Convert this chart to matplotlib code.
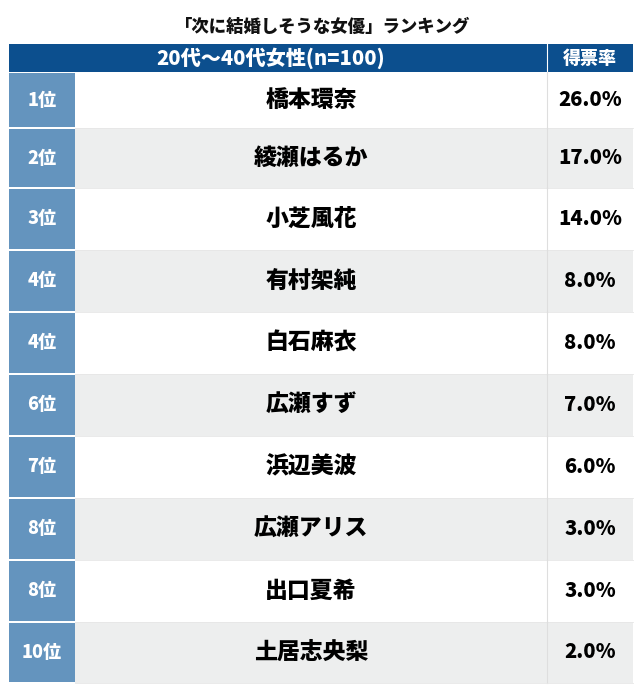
import matplotlib.pyplot as plt
from matplotlib.patches import Rectangle

plt.rcParams['font.family'] = ['Noto Sans CJK JP', 'DejaVu Sans']

title = "「次に結婚しそうな女優」ランキング"
header_left = "20代〜40代女性(n=100)"
header_right = "得票率"
ranks = ["1位", "2位", "3位", "4位", "4位", "6位", "7位", "8位", "8位", "10位"]
names = ["橋本環奈", "綾瀬はるか", "小芝風花", "有村架純", "白石麻衣",
         "広瀬すず", "浜辺美波", "広瀬アリス", "出口夏希", "土居志央梨"]
shares = [26.0, 17.0, 14.0, 8.0, 8.0, 7.0, 6.0, 3.0, 3.0, 2.0]

# layout in pixels
W, H = 640, 695
x0, x1, x2, x3 = 9, 75, 547, 633
head_top, head_bot = 44, 72
row_h = [56, 60, 62, 62, 62, 62, 62, 62, 62, 61]

dark_blue = "#0c4f8e"
rank_blue = "#6494be"
row_gray = "#edeeee"
line_gray = "#dedede"

fig = plt.figure(figsize=(W / 100, H / 100), dpi=100)
ax = fig.add_axes([0, 0, 1, 1])
ax.set_xlim(0, W)
ax.set_ylim(H, 0)
ax.axis("off")

ax.text(W / 2 + 3, 27, title, ha="center", va="center", fontsize=12.5,
        fontweight=900, color="#111111")

# header
ax.add_patch(Rectangle((x0, head_top), x3 - x0, head_bot - head_top,
                       color=dark_blue, lw=0))
ax.plot([x2, x2], [head_top, head_bot], color="white", lw=0.8)
ax.text(271, (head_top + head_bot) / 2, header_left, ha="center", va="center",
        fontsize=14.5, fontweight=900, color="white")
ax.text((x2 + x3) / 2, (head_top + head_bot) / 2, header_right, ha="center",
        va="center", fontsize=13, fontweight=900, color="white")

y = head_bot
for i, (rk, nm, sh) in enumerate(zip(ranks, names, shares)):
    h = row_h[i]
    fill = "white" if i % 2 == 0 else row_gray
    ax.add_patch(Rectangle((x1, y), x3 - x1, h, color=fill, lw=0))
    ax.add_patch(Rectangle((x0, y + 1), x1 - x0, h - 2, color=rank_blue, lw=0))
    ax.plot([x2, x2], [y, y + h], color=line_gray, lw=0.8)
    ax.plot([x1, x3], [y + h, y + h], color="#e6e6e6", lw=0.6)
    cy = y + h / 2
    ax.text((x0 + x1) / 2, cy, rk, ha="center", va="center", fontsize=13,
            fontweight=900, color="white")
    ax.text((x1 + x2) / 2, cy, nm, ha="center", va="center", fontsize=16.5,
            fontweight=900, color="black")
    ax.text((x2 + x3) / 2, cy, f"{sh:.1f}%", ha="center", va="center",
            fontsize=14.5, fontweight=900, color="black")
    y += h

fig.savefig("out.png", dpi=100)
